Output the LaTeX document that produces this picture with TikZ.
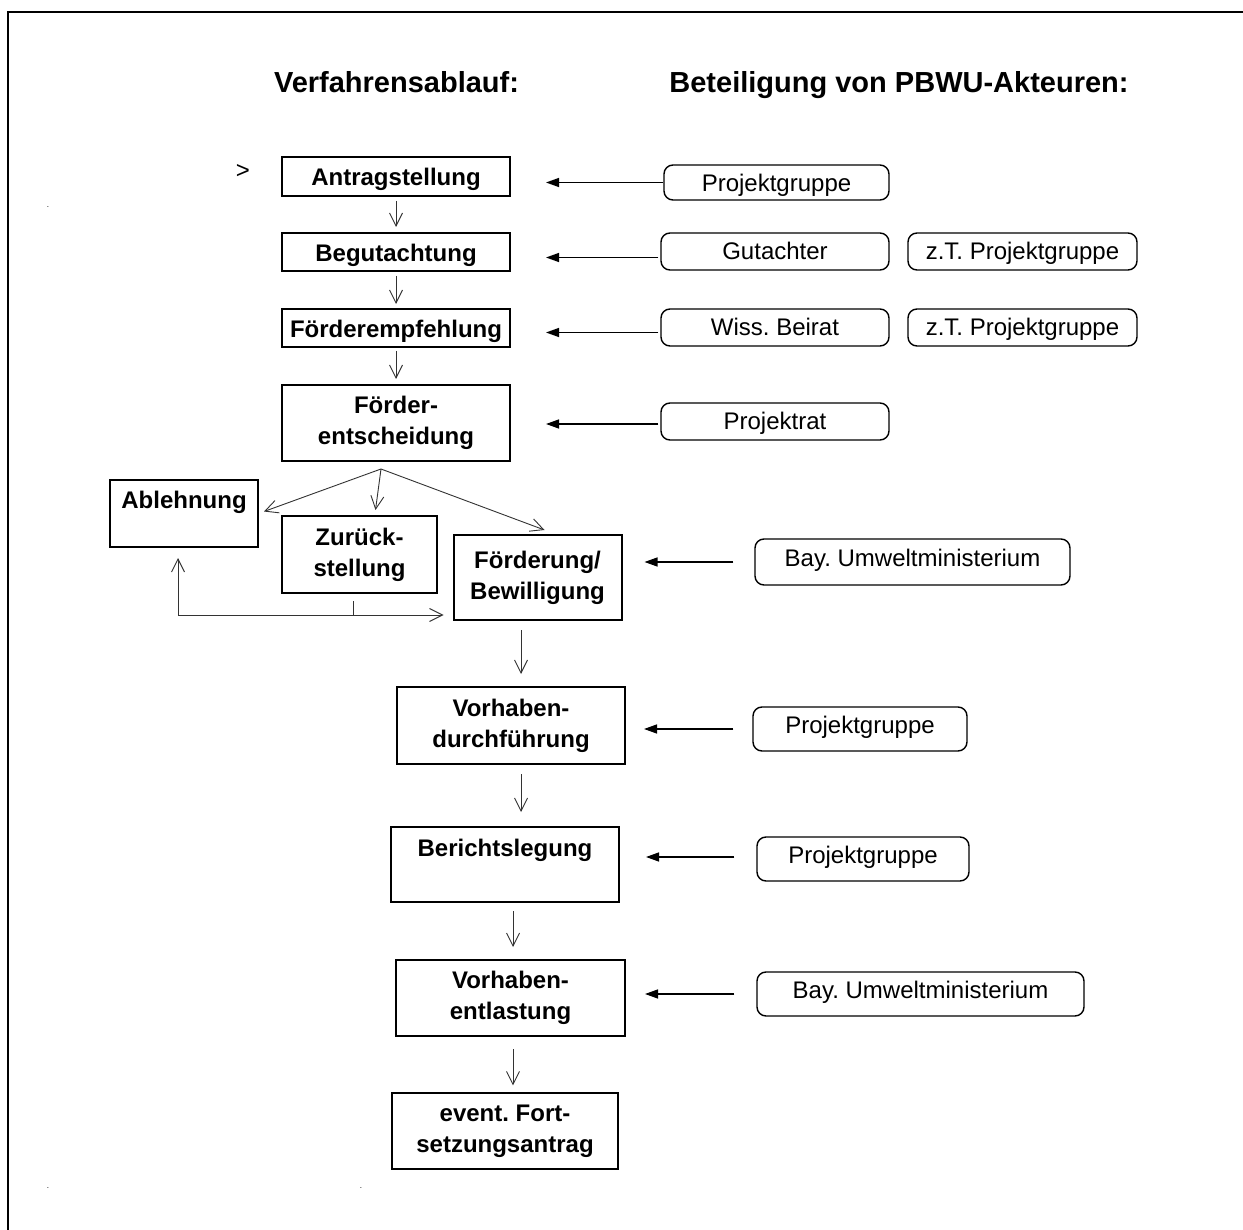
\documentclass[tikz,border=0pt]{standalone}
\usepackage{fontspec}
\setmainfont{Liberation Sans}
\usetikzlibrary{arrows.meta}
\frenchspacing
\newcommand{\boxfnt}{\fontsize{24pt}{31pt}\selectfont\bfseries}
\newcommand{\actfnt}{\fontsize{24pt}{29pt}\selectfont}
\newcommand{\headfnt}{\fontsize{29pt}{34pt}\selectfont\bfseries}
\tikzset{
  proc/.style={draw, line width=2pt, font=\boxfnt, align=center, inner sep=0pt, minimum width=228pt},
  actor/.style={draw, rounded corners=9pt, line width=1.4pt, font=\actfnt, inner sep=0pt},
  flow/.style={-{Straight Barb[length=13pt,width=13pt]}, line width=0.9pt, draw=black!80},
  thinline/.style={line width=0.9pt, draw=black!80},
  feed/.style={-{Triangle[length=13pt,width=9pt]}, line width=1.4pt},
  frameline/.style={line width=2.5pt},
  tiny/.style={font=\fontsize{8pt}{8pt}\selectfont, inner sep=0pt}
}
\begin{document}
\begin{tikzpicture}[x=1pt,y=-1pt]
\fill[white] (0,0) rectangle (1243,1230);
\useasboundingbox (0,0) rectangle (1243,1230);
\draw[frameline] (8,1231) -- (8,12) -- (1244,12);

% headers
\node[font=\headfnt, anchor=base] (h1) at (396.5,93) {Verfahrensablauf:};
\node[font=\headfnt, anchor=base] (h2) at (899,93) {Beteiligung von PBWU-Akteuren:};

% stray marks
\node[font=\actfnt, inner sep=0pt] (gt) at (243,172) {>};
\node[tiny] (d1) at (48,207) {.};
\node[tiny] (d2) at (48,1188) {.};
\node[tiny] (d3) at (361,1188) {.};

% process column
\node[proc, text height=29pt, text depth=10pt] (antrag) at (396,176.5) {Antragstellung};
\node[proc, text height=28.5pt, text depth=9.5pt] (begut) at (396,252) {Begutachtung};
\node[proc, text height=28.5pt, text depth=9.5pt] (empf) at (396,328) {Förderempfehlung};
\node[proc, minimum height=76pt] (entsch) at (396,423) {Förder-\\entscheidung};
\node[proc, minimum width=148pt, text height=28.4pt, text depth=38.6pt] (ablehn) at (184,513.5) {Ablehnung};
\node[proc, minimum width=155pt, minimum height=77pt] (zurueck) at (359.5,554.5) {Zurück-\\stellung};
\node[proc, minimum width=168pt, minimum height=85pt] (foerd) at (537.5,577.5) {Förderung/\\Bewilligung};
\node[proc, minimum height=77pt] (vdurch) at (511,725.5) {Vorhaben-\\durchführung};
\node[proc, text height=29pt, text depth=46pt] (bericht) at (505,864.5) {Berichtslegung};
\node[proc, minimum width=229pt, minimum height=76pt] (vent) at (510.5,998) {Vorhaben-\\entlastung};
\node[proc, line width=1.2pt, minimum width=226pt, minimum height=76pt] (fort) at (505,1131) {event. Fort-\\setzungsantrag};

% actors
\node[actor, minimum width=225pt, text height=26.5pt, text depth=8.5pt] (pg1) at (776.5,182.5) {Projektgruppe};
\node[actor, minimum width=228pt, text height=27pt, text depth=10pt] (gut) at (775,251.5) {Gutachter};
\node[actor, minimum width=229pt, text height=27pt, text depth=10pt] (zt1) at (1022.5,251.5) {z.T. Projektgruppe};
\node[actor, minimum width=228pt, text height=27pt, text depth=10pt] (wiss) at (775,327.5) {Wiss. Beirat};
\node[actor, minimum width=229pt, text height=27pt, text depth=10pt] (zt2) at (1022.5,327.5) {z.T. Projektgruppe};
\node[actor, minimum width=228pt, text height=27pt, text depth=10pt] (prat) at (775,421.5) {Projektrat};
\node[actor, minimum width=315pt, text height=27pt, text depth=19pt] (bay1) at (912.5,562) {Bay. Umweltministerium};
\node[actor, minimum width=214pt, text height=26.5pt, text depth=17.5pt] (pg2) at (860,729) {Projektgruppe};
\node[actor, minimum width=212pt, text height=26.5pt, text depth=17.5pt] (pg3) at (863,859) {Projektgruppe};
\node[actor, minimum width=327pt, text height=26.5pt, text depth=17.5pt] (bay2) at (920.5,994) {Bay. Umweltministerium};

% main flow
\draw[flow, shorten <=4pt, shorten >=5pt] (antrag) -- (begut);
\draw[flow, shorten <=4pt, shorten >=4pt] (begut) -- (empf);
\draw[flow, shorten <=3pt, shorten >=5pt] (empf) -- (entsch);

\coordinate (split) at ([xshift=-15pt,yshift=-7pt]entsch.south);
\draw[flow] (split) -- ([xshift=5pt,yshift=2pt]ablehn.east);
\draw[flow] (split) -- ([xshift=16pt,yshift=5pt]zurueck.north);
\draw[flow] (split) -- ([xshift=7pt,yshift=4pt]foerd.north);

\coordinate (corner) at (178,615);
\coordinate (stubtop) at ([xshift=-6.5pt,yshift=-7pt]zurueck.south);
\draw[thinline] (stubtop) -- (stubtop |- corner);
\draw[flow, shorten >=10pt] (corner) -- (corner |- ablehn.south);
\draw[flow, shorten >=9pt] (corner) -- (corner -| foerd.west);

\coordinate (fv) at ([xshift=10pt]vdurch.north);
\draw[flow, shorten <=9pt, shorten >=12pt] (fv |- foerd.south) -- (fv);
\coordinate (vb) at ([xshift=10pt]vdurch.south);
\draw[flow, shorten <=9pt, shorten >=14pt] (vb) -- (vb |- bericht.north);
\coordinate (bv) at ([xshift=8pt]bericht.south);
\draw[flow, shorten <=8pt, shorten >=12pt] (bv) -- (bv |- vent.north);
\coordinate (vf) at ([xshift=2.5pt]vent.south);
\draw[flow, shorten <=12pt, shorten >=7pt] (vf) -- (vf |- fort.north);

% participation arrows
\draw[feed, shorten >=35pt] (pg1.west) -- (pg1.west -| antrag.east);
\coordinate (r2) at ([yshift=-6pt]gut.west);
\draw[feed, shorten <=2pt, shorten >=35pt] (r2) -- (r2 -| begut.east);
\coordinate (r3) at ([yshift=-5pt]wiss.west);
\draw[feed, shorten <=2pt, shorten >=35pt] (r3) -- (r3 -| empf.east);
\coordinate (r4) at ([yshift=-2.5pt]prat.west);
\draw[feed, shorten <=2pt, shorten >=35pt] (r4) -- (r4 -| entsch.east);
\draw[feed, shorten <=21pt, shorten >=22pt] (bay1.west) -- (bay1.west -| foerd.east);
\draw[feed, shorten <=19pt, shorten >=18pt] (pg2.west) -- (pg2.west -| vdurch.east);
\coordinate (r7) at ([yshift=2pt]pg3.west);
\draw[feed, shorten <=22pt, shorten >=26pt] (r7) -- (r7 -| bericht.east);
\draw[feed, shorten <=22pt, shorten >=19pt] (bay2.west) -- (bay2.west -| vent.east);
\end{tikzpicture}
\end{document}
